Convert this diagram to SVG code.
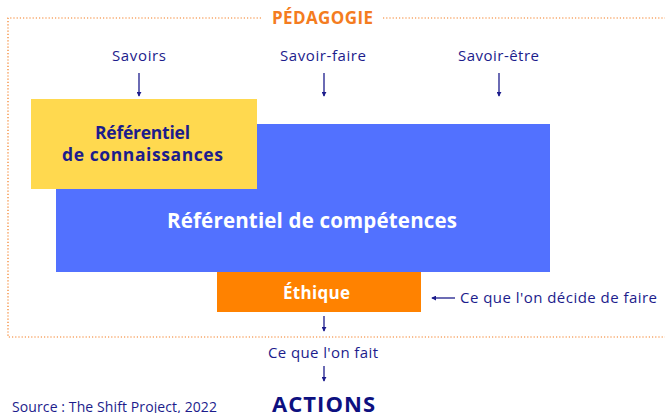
<svg xmlns="http://www.w3.org/2000/svg" width="665" height="413" viewBox="0 0 665 413">
<style>
.lbl{font-family:"Open Sans","Liberation Sans",sans-serif;font-size:15px;fill:#1c1c8c}
.b{font-weight:bold}
.conn{stroke:#1c1c8c;stroke-width:1.3;fill:none}
.frame{stroke:#f47c20;stroke-width:1.2;stroke-dasharray:1.2 2;fill:none}
</style>
<defs>
<marker id="ah" viewBox="0 0 6 6" refX="5" refY="3" markerWidth="5" markerHeight="5" orient="auto" markerUnits="userSpaceOnUse">
<path d="M0,0 L6,3 L0,6 z" fill="#1c1c8c"/>
</marker>
</defs>
<rect width="665" height="413" fill="#fff"/>
<g id="frame">
<path class="frame" d="M261,18 H8 V337 H665"/>
<path class="frame" d="M383,18 H665"/>
<text x="272" y="24" textLength="101" style="font-family:'Open Sans','Liberation Sans',sans-serif;font-size:17px;font-weight:bold;fill:#f47c20">PÉDAGOGIE</text>
</g>
<g id="competences">
<rect x="56" y="124" width="494" height="148" fill="#5271ff"/>
<text x="167" y="228" textLength="290" style="font-family:'Open Sans','Liberation Sans',sans-serif;font-size:20.5px;font-weight:bold;fill:#fff">Référentiel de compétences</text>
</g>
<g id="connaissances">
<rect x="31" y="99" width="226" height="90" fill="#ffd94f"/>
<text x="95" y="139" textLength="95" class="lbl b" style="font-size:17.5px">Référentiel</text>
<text x="62" y="161" textLength="161" class="lbl b" style="font-size:17.5px">de connaissances</text>
</g>
<g id="ethique">
<rect x="217" y="272" width="204" height="40" fill="#ff8200"/>
<text x="283" y="299" textLength="67" style="font-family:'Open Sans','Liberation Sans',sans-serif;font-size:17px;font-weight:bold;fill:#fff">Éthique</text>
</g>
<g id="labels">
<text x="112" y="61" textLength="54" class="lbl">Savoirs</text>
<text x="280" y="61" textLength="86" class="lbl">Savoir-faire</text>
<text x="458" y="61" textLength="81" class="lbl">Savoir-être</text>
<text x="460" y="303" textLength="197" class="lbl">Ce que l'on décide de faire</text>
<text x="268" y="358" textLength="110" class="lbl">Ce que l'on fait</text>
<text x="12" y="412" textLength="205" class="lbl" style="font-size:14px">Source : The Shift Project, 2022</text>
<text x="272" y="412" textLength="103" class="lbl b" style="font-size:22px;fill:#0d1080">ACTIONS</text>
</g>
<g id="connectors">
<line class="conn" x1="139" y1="73" x2="139" y2="96" marker-end="url(#ah)"/>
<line class="conn" x1="324" y1="73" x2="324" y2="96" marker-end="url(#ah)"/>
<line class="conn" x1="499" y1="73" x2="499" y2="96" marker-end="url(#ah)"/>
<line class="conn" x1="455" y1="298" x2="432" y2="298" marker-end="url(#ah)"/>
<line class="conn" x1="324" y1="316" x2="324" y2="331" marker-end="url(#ah)"/>
<line class="conn" x1="324" y1="366" x2="324" y2="381" marker-end="url(#ah)"/>
</g>
</svg>
